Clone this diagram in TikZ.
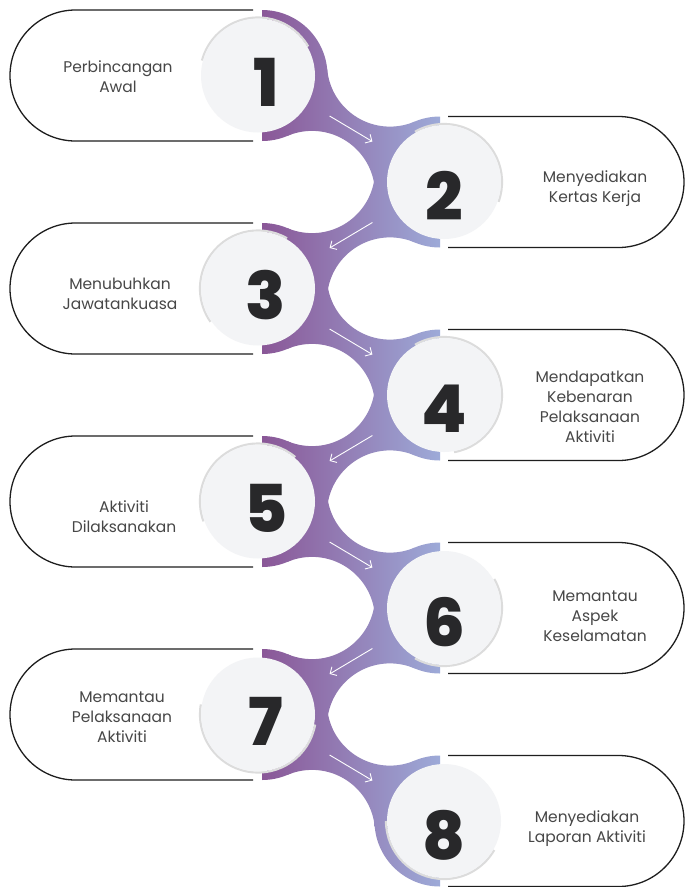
\documentclass[tikz,border=0pt]{standalone}
\usepackage{fontspec}
\newfontfamily\labfont{Poppins}
\newfontfamily\numfont{Poppins ExtraBold}
\usetikzlibrary{arrows.meta}
\definecolor{pL}{HTML}{8A5797}
\definecolor{pR}{HTML}{9DAAD8}
\definecolor{circ}{HTML}{F3F4F6}
\definecolor{rimc}{HTML}{DCDCDC}
\definecolor{numc}{HTML}{28282A}
\definecolor{txtc}{HTML}{474747}
\definecolor{edgec}{HTML}{1E1E1E}
\newcommand\shadeall{\shade[left color=pL,right color=pR] (262,0) rectangle (440,887);}
\newcommand\ringL[1]{\begin{scope}\clip (262,{#1-67}) rectangle (330,{#1+67});\clip (262,#1) circle[radius=65.5];\shadeall\end{scope}}
\newcommand\ringR[1]{\begin{scope}\clip (372,{#1-67}) rectangle (440,{#1+67});\clip (440,#1) circle[radius=65.5];\shadeall\end{scope}}
\newcommand\neckDR[1]{\begin{scope}[even odd rule]
\clip (0,0) rectangle (685,887) (389.97,{#1-11.89}) circle[radius=63];
\clip (0,0) rectangle (685,887) (312.03,{#1+118.39}) circle[radius=63];
\clip (262,#1) -- (327.23,{#1-6.06}) -- (414.50,{#1+46.16}) -- (440,{#1+106.5}) -- (374.77,{#1+112.56}) -- (287.50,{#1+60.34}) -- cycle;
\shadeall\end{scope}}
\newcommand\neckDL[1]{\begin{scope}[even odd rule]
\clip (0,0) rectangle (685,887) (312.03,{#1-11.89}) circle[radius=63];
\clip (0,0) rectangle (685,887) (389.97,{#1+118.39}) circle[radius=63];
\clip (440,#1) -- (374.77,{#1-6.06}) -- (287.50,{#1+46.16}) -- (262,{#1+106.5}) -- (327.23,{#1+112.56}) -- (414.50,{#1+60.34}) -- cycle;
\shadeall\end{scope}}
\tikzset{
  pill/.style={draw=edgec,line width=1.3pt},
  disc/.style={circle,fill=circ,minimum size=114pt,inner sep=0pt},
  numtxt/.style={font=\numfont\fontsize{66}{66}\selectfont,text=numc,inner sep=0pt},
  labtxt/.style={font=\labfont\fontsize{15.5}{20}\selectfont,text=txtc,align=center,inner sep=0pt},
  flow/.style={draw=white,line width=0.9pt,-{Straight Barb[length=5pt,width=10pt]}}
}
\begin{document}
\begin{tikzpicture}[x=1pt,y=-1pt]
\fill[white] (0,0) rectangle (685,887);
\useasboundingbox (0,0) rectangle (685,887);
% pills
\foreach \y in {75.5,288.5,501.5,714.5}
  \draw[pill] (253,{\y-65.5}) -- (75.5,{\y-65.5}) arc[start angle=-90,end angle=-270,radius=65.5] -- (253,{\y+65.5});
\foreach \y in {182,395,608,821}
  \draw[pill] (448,{\y-65.5}) -- (618.5,{\y-65.5}) arc[start angle=-90,end angle=90,radius=65.5] -- (448,{\y+65.5});
% purple connector shape
\foreach \y in {75.5,288.5,501.5,714.5} {\ringL{\y}}
\foreach \y in {182,395,608,821} {\ringR{\y}}
\foreach \y in {75.5,288.5,501.5,714.5} {\neckDR{\y}}
\foreach \y in {182,395,608} {\neckDL{\y}}
% circles
\foreach \k/\cx/\cy/\sa/\ea in {1/258/75.5/-30/-165, 2/444/182/20/-120, 3/258/288.5/-60/-215, 4/444/395/80/-120, 5/258/501.5/-50/-200, 6/444/608/120/-30, 7/258/714.5/-170/-350, 8/444/821/-180/-330}{
  \draw[rimc,line width=2.2pt] (\cx,\cy) ++(\sa:58) arc[start angle=\sa,end angle=\ea,radius=58];
  \node[disc] (n\k) at (\cx,\cy) {};
}
% numbers
\node[numtxt] (d1) at (266,82.5) {1};
\node[numtxt] (d2) at (444,196) {2};
\node[numtxt] (d3) at (266,295.5) {3};
\node[numtxt] (d4) at (444,409) {4};
\node[numtxt] (d5) at (266,508.5) {5};
\node[numtxt] (d6) at (444,622) {6};
\node[numtxt] (d7) at (266,721.5) {7};
\node[numtxt] (d8) at (444,835) {8};
% labels
\node[labtxt] (l1) at (118,77) {Perbincangan\\Awal};
\node[labtxt] (l2) at (595,189) {Menyediakan\\Kertas Kerja};
\node[labtxt] (l3) at (120,294) {Menubuhkan\\Jawatankuasa};
\node[labtxt] (l4) at (590,407) {Mendapatkan\\Kebenaran\\Pelaksanaan\\Aktiviti};
\node[labtxt] (l5) at (124,516.5) {Aktiviti\\Dilaksanakan};
\node[labtxt] (l6) at (595,616.5) {Memantau\\Aspek\\Keselamatan};
\node[labtxt] (l7) at (122,717.5) {Memantau\\Pelaksanaan\\Aktiviti};
\node[labtxt] (l8) at (587,829) {Menyediakan\\Laporan Aktiviti};
% arrows
\foreach \k/\y in {1/75.5,3/288.5,5/501.5,7/714.5}{
  \coordinate (s\k) at (329.6,{\y+40.5});
  \coordinate (e\k) at (372.4,{\y+66});
  \draw[flow] (s\k) -- (e\k);
}
\foreach \k/\y in {2/182,4/395,6/608}{
  \coordinate (s\k) at (372.4,{\y+40.5});
  \coordinate (e\k) at (329.6,{\y+66});
  \draw[flow] (s\k) -- (e\k);
}
\end{tikzpicture}
\end{document}
